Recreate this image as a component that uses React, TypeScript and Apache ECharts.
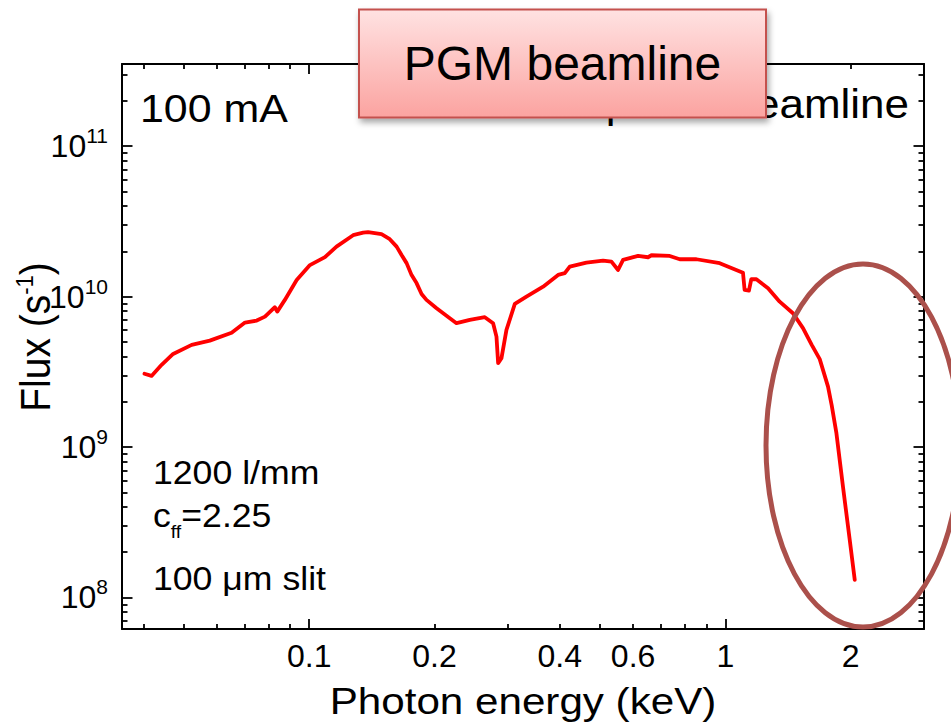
import React, { useEffect, useRef } from "react";
import * as echarts from "echarts";

// Photon energy (keV) and flux (photons/s)
const energyKeV = [
  0.0402, 0.0418, 0.0442, 0.0471, 0.0522, 0.0577, 0.0651, 0.0701, 0.0748, 0.0783,
  0.0827, 0.0838, 0.0874, 0.0933, 0.1004, 0.1091, 0.1163, 0.1275, 0.1348, 0.1385,
  0.1492, 0.1562, 0.1622, 0.1667, 0.1714, 0.1762, 0.1811, 0.1862, 0.1913, 0.2023,
  0.2177, 0.2259, 0.2431, 0.2642, 0.2766, 0.2818, 0.2844, 0.2897, 0.2978, 0.3119,
  0.3326, 0.3648, 0.3963, 0.4112, 0.4227, 0.4636, 0.5082, 0.5323, 0.5522, 0.5677,
  0.6167, 0.6518, 0.6643, 0.7348, 0.7767, 0.8519, 0.969, 1.102, 1.112, 1.139,
  1.154, 1.187, 1.266, 1.35, 1.453, 1.536, 1.612, 1.685, 1.764, 1.8,
  1.848, 1.916, 1.989, 2.045,
];
const fluxPerSec = [
  3.07e9, 2.97e9, 3.52e9, 4.16e9, 4.78e9, 5.1e9, 5.76e9, 6.72e9, 6.93e9, 7.36e9,
  8.5e9, 7.95e9, 9.51e9, 1.29e10, 1.62e10, 1.83e10, 2.15e10, 2.56e10, 2.66e10, 2.68e10,
  2.6e10, 2.41e10, 2.15e10, 1.89e10, 1.67e10, 1.39e10, 1.23e10, 1.04e10, 9.51e9, 8.37e9,
  7.19e9, 6.66e9, 7.0e9, 7.3e9, 6.66e9, 5.42e9, 3.61e9, 3.9e9, 6.01e9, 8.94e9,
  1.0e10, 1.165e10, 1.394e10, 1.431e10, 1.582e10, 1.682e10, 1.735e10, 1.708e10, 1.504e10, 1.754e10,
  1.864e10, 1.827e10, 1.884e10, 1.864e10, 1.772e10, 1.772e10, 1.667e10, 1.443e10, 1.108e10, 1.096e10,
  1.305e10, 1.305e10, 1.137e10, 9.26e9, 7.76e9, 6.17e9, 4.78e9, 3.84e9, 2.52e9, 1.9e9,
  1.237e9, 5.46e8, 2.42e8, 1.31e8,
];

// axis ranges
const xRange = [0.0355, 3.0];
const yRange = [6.17e7, 3.52e11];

// tick labels and tick positions
const xLabelValues = [0.1, 0.2, 0.4, 0.6, 1, 2];
const xMajorTicks = [0.1, 1];
const xMinorTicks = [0.04, 0.05, 0.06, 0.07, 0.08, 0.09, 0.2, 0.3, 0.4, 0.5, 0.6, 0.7, 0.8, 0.9, 2, 3];
const yMajorTicks = [1e8, 1e9, 1e10, 1e11];
const yMinorTicks = [
  7e7, 8e7, 9e7,
  2e8, 3e8, 4e8, 5e8, 6e8, 7e8, 8e8, 9e8,
  2e9, 3e9, 4e9, 5e9, 6e9, 7e9, 8e9, 9e9,
  2e10, 3e10, 4e10, 5e10, 6e10, 7e10, 8e10, 9e10,
  2e11, 3e11,
];

// annotation texts
const titleX = "Photon energy (keV)";
const titleY = "Flux (s{sup|-1})";
const boxTitle = "PGM beamline";
const hiddenTitle = "Sphere beamline";
const currentText = "100 mA";
const gratingText = "1200 l/mm";
const cffText = "c{sub|ff}=2.25";
const slitText = "100 μm slit";

const FONT = "'Liberation Sans', Arial, Helvetica, sans-serif";
const lg = (v: number) => Math.log10(v);

export default function App() {
  const ref = useRef<HTMLDivElement>(null);

  useEffect(() => {
    if (!ref.current) return;
    const chart = echarts.init(ref.current, null, { renderer: "svg" });

    const xMin = lg(xRange[0]);
    const xMax = lg(xRange[1]);
    const yMin = lg(yRange[0]);
    const yMax = lg(yRange[1]);

    const axisLine = { show: true, onZero: false, lineStyle: { color: "#000", width: 2 } };
    const noLine = { show: false, onZero: false };

    const mkX = (position: string, major: boolean, labels: boolean) => ({
      type: "value",
      position,
      min: xMin,
      max: xMax,
      axisLine: major ? axisLine : noLine,
      splitLine: { show: false },
      axisTick: {
        show: true,
        inside: true,
        length: major ? 10 : 5,
        lineStyle: { color: "#000", width: 1.8 },
        customValues: (major ? xMajorTicks : xMinorTicks).map(lg),
      },
      axisLabel: labels
        ? {
            show: true,
            customValues: xLabelValues.map(lg),
            formatter: (v: number) => String(parseFloat(Math.pow(10, v).toPrecision(3))),
            fontFamily: FONT,
            fontSize: 32,
            color: "#000",
            margin: 11,
          }
        : { show: false },
    });

    const mkY = (position: string, major: boolean, labels: boolean) => ({
      type: "value",
      position,
      min: yMin,
      max: yMax,
      axisLine: major ? axisLine : noLine,
      splitLine: { show: false },
      axisTick: {
        show: true,
        inside: true,
        length: major ? 10.5 : 5.5,
        lineStyle: { color: "#000", width: 1.8 },
        customValues: (major ? yMajorTicks : yMinorTicks).map(lg),
      },
      axisLabel: labels
        ? {
            show: true,
            customValues: yMajorTicks.map(lg),
            formatter: (v: number) => "10{sup|" + Math.round(v) + "}",
            fontFamily: FONT,
            fontSize: 32,
            lineHeight: 42,
            color: "#000",
            margin: 14,
            rich: {
              sup: { fontFamily: FONT, fontSize: 21, lineHeight: 21, verticalAlign: "top", color: "#000" },
            },
          }
        : { show: false },
    });

    const option: any = {
      animation: false,
      backgroundColor: "#fff",
      grid: { left: 122, top: 64, width: 802, height: 565, containLabel: false },
      xAxis: [
        mkX("bottom", true, true),
        mkX("bottom", false, false),
        mkX("top", true, false),
        mkX("top", false, false),
      ],
      yAxis: [
        mkY("left", true, true),
        mkY("left", false, false),
        mkY("right", true, false),
        mkY("right", false, false),
      ],
      series: [
        {
          type: "line",
          xAxisIndex: 0,
          yAxisIndex: 0,
          showSymbol: false,
          symbol: "none",
          smooth: false,
          lineStyle: { color: "#ff0000", width: 3.8, join: "round", cap: "round" },
          data: energyKeV.map((e, i) => [lg(e), lg(fluxPerSec[i])]),
          z: 3,
        },
      ],
      graphic: [
        {
          type: "text",
          x: 523,
          y: 701,
          scaleX: 1.14,
          z: 10,
          style: { text: titleX, font: `37px ${FONT}`, fill: "#000", align: "center", verticalAlign: "middle" },
        },
        {
          type: "text",
          x: 35,
          y: 337,
          rotation: Math.PI / 2,
          scaleY: 1.1,
          z: 10,
          style: {
            text: titleY,
            font: `39px ${FONT}`,
            fill: "#000",
            align: "center",
            verticalAlign: "middle",
            lineHeight: 40,
            rich: { sup: { font: `22px ${FONT}`, fill: "#000", lineHeight: 22, verticalAlign: "top" } },
          },
        },
        {
          type: "text",
          x: 140,
          y: 108.5,
          scaleX: 1.1,
          z: 10,
          style: { text: currentText, font: `39px ${FONT}`, fill: "#000", align: "left", verticalAlign: "middle" },
        },
        {
          type: "text",
          x: 909,
          y: 104.4,
          scaleX: 1.1,
          z: 10,
          style: { text: hiddenTitle, font: `40px ${FONT}`, fill: "#000", align: "right", verticalAlign: "middle" },
        },
        {
          type: "text",
          x: 153,
          y: 472.5,
          scaleX: 1.08,
          z: 10,
          style: { text: gratingText, font: `33px ${FONT}`, fill: "#000", align: "left", verticalAlign: "middle" },
        },
        {
          type: "text",
          x: 153,
          y: 515,
          scaleX: 1.08,
          z: 10,
          style: {
            text: cffText,
            font: `33px ${FONT}`,
            fill: "#000",
            align: "left",
            verticalAlign: "middle",
            lineHeight: 52,
            rich: { sub: { font: `18px ${FONT}`, fill: "#000", lineHeight: 18, verticalAlign: "bottom" } },
          },
        },
        {
          type: "text",
          x: 153,
          y: 578.5,
          scaleX: 1.08,
          z: 10,
          style: { text: slitText, font: `33px ${FONT}`, fill: "#000", align: "left", verticalAlign: "middle" },
        },
        {
          type: "ellipse",
          z: 20,
          shape: { cx: 863, cy: 445.5, rx: 97, ry: 181.5 },
          style: { fill: "none", stroke: "#ab504b", lineWidth: 5 },
        },
        {
          type: "rect",
          z: 30,
          shape: { x: 359, y: 9.5, width: 407, height: 108 },
          style: {
            fill: new echarts.graphic.LinearGradient(0, 0, 0, 1, [
              { offset: 0, color: "#ffe2e2" },
              { offset: 1, color: "#fba3a0" },
            ]),
            stroke: "#c4514e",
            lineWidth: 2,
            shadowBlur: 6,
            shadowOffsetX: 2,
            shadowOffsetY: 4,
            shadowColor: "rgba(0,0,0,0.35)",
          },
        },
        {
          type: "text",
          x: 562.5,
          y: 63.5,
          z: 31,
          style: { text: boxTitle, font: `48px ${FONT}`, fill: "#000", align: "center", verticalAlign: "middle" },
        },
      ],
    };

    chart.setOption(option);
    return () => chart.dispose();
  }, []);

  return (
    <div
      ref={ref}
      style={{ position: "absolute", left: 0, top: 0, width: 951, height: 724, background: "#fff" }}
    />
  );
}
